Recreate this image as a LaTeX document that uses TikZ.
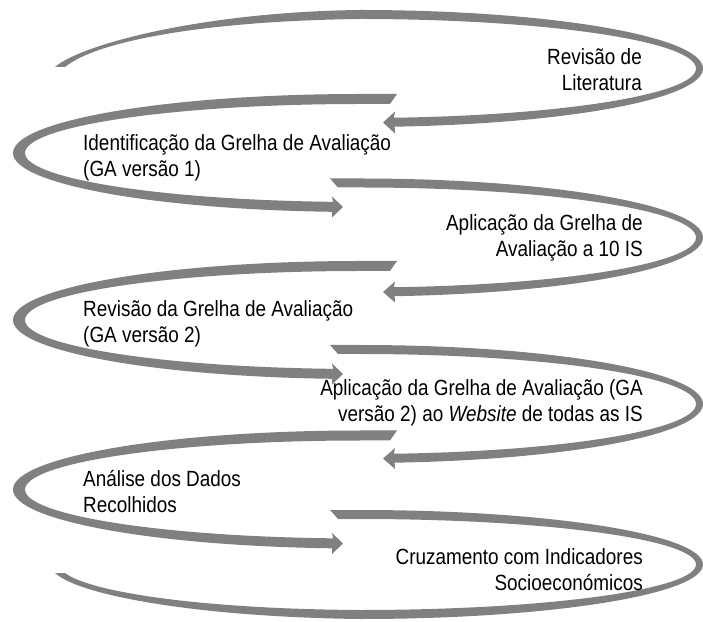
\documentclass[tikz,border=0pt]{standalone}
\usepackage{fontspec}
\newfontfamily\lblfont{Liberation Sans}[FakeStretch=0.86]
\definecolor{bandgray}{RGB}{128,128,128}
\tikzset{
  band/.style={fill=bandgray, draw=none},
  lbl/.style={font={\lblfont\fontsize{22}{26}\selectfont}, inner sep=0pt, text=black},
}
% right loop: #1 = centre y (tikz, y up)
\newcommand\RLoop[1]{%
  \fill[band] (330,{#1+59}) -- (360,{#1+59})
    arc[start angle=90, end angle=-84.2, x radius=343, y radius=59]
    -- (395,{#1-65}) -- (383,{#1-54.5}) -- (395,{#1-44})
    -- ([shift={(-84.2:336 and 50)}]360,#1)
    arc[start angle=-84.2, end angle=90, x radius=336, y radius=50]
    -- (338,{#1+50}) -- cycle;}
% left loop: #1 = centre y
\newcommand\LLoop[1]{%
  \fill[band] (397,{#1+59}) -- (360,{#1+59})
    arc[start angle=90, end angle=265.4, x radius=347, y radius=59]
    -- (332,{#1-64.5}) -- (343,{#1-54}) -- (332,{#1-43.5})
    -- ([shift={(265.4:335 and 49)}]360,#1)
    arc[start angle=265.4, end angle=90, x radius=335, y radius=49]
    -- (390,{#1+49}) -- cycle;}
\begin{document}
\begin{tikzpicture}[x=1pt,y=1pt]
\useasboundingbox (0,0) rectangle (703,621);
% band 1 (top, with tail)
\fill[band] (55,554) .. controls (80,576) and (200,609) .. (360,611)
  arc[start angle=90, end angle=-84.2, x radius=343, y radius=58.5]
  -- (395,{552.5-65}) -- (383,{552.5-54}) -- (395,{552.5-43})
  -- ([shift={(-84.2:336 and 49.5)}]360,552.5)
  arc[start angle=-84.2, end angle=90, x radius=336, y radius=49.5]
  .. controls (200,600) and (95,579) .. (65,554) -- cycle;
\LLoop{468}
\RLoop{383.5}
\LLoop{301}
\RLoop{217}
\LLoop{131.5}
% band 7 (bottom, with tail)
\fill[band] (330,111) -- (360,111)
  arc[start angle=90, end angle=-90, x radius=343, y radius=54.5]
  .. controls (200,4) and (80,25) .. (55,48) -- (65,48)
  .. controls (90,29) and (200,12) .. (360,11)
  arc[start angle=-90, end angle=90, x radius=336, y radius=45.5]
  -- (338,102) -- cycle;
% labels (anchor = baseline of the last line)
\node[lbl, anchor=base east, align=right] (t1) at (642,530) {Revisão de\\Literatura};
\node[lbl, anchor=base west, align=left] (t2) at (83,444) {Identificação da Grelha de Avaliação\\(GA versão 1)};
\node[lbl, anchor=base east, align=right] (t3) at (643,364) {Aplicação da Grelha de\\Avaliação a 10 IS};
\node[lbl, anchor=base west, align=left] (t4) at (83,278) {Revisão da Grelha de Avaliação\\(GA versão 2)};
\node[lbl, anchor=base east, align=right] (t5) at (643,199) {Aplicação da Grelha de Avaliação (GA\\versão 2) ao \textit{Website} de todas as IS};
\node[lbl, anchor=base west, align=left] (t6) at (83,109) {Análise dos Dados\\Recolhidos};
\node[lbl, anchor=base east, align=right] (t7) at (643,31) {Cruzamento com Indicadores\\Socioeconómicos};
\end{tikzpicture}
\end{document}
